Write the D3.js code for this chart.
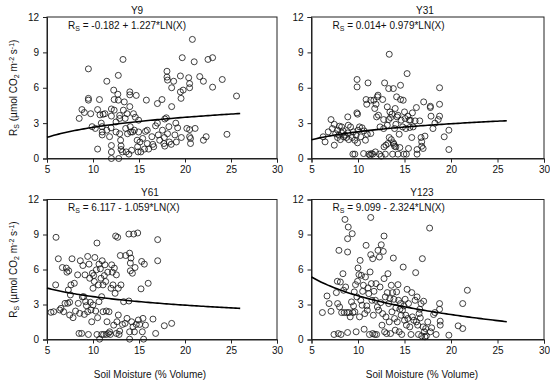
<!DOCTYPE html>
<html><head><meta charset="utf-8">
<script src="https://cdn.jsdelivr.net/npm/d3@7"></script>
<style>
body{margin:0;background:#fff;}
svg{display:block;font-family:"Liberation Sans",Arial,sans-serif;}
</style></head>
<body>
<svg id="chart" width="550" height="383"></svg>
<script>
// ---- data ----
const panelTitles = ["Y9", "Y31", "Y61", "Y123"];
const fitA = [-0.182, 0.014, 6.117, 9.099];
const fitB = [1.227, 0.979, -1.059, -2.324];
const eqTexts = ["= -0.182 + 1.227*LN(X)", "= 0.014+ 0.979*LN(X)", "= 6.117 - 1.059*LN(X)", "= 9.099 - 2.324*LN(X)"];
const xTicks = [5, 10, 15, 20, 25, 30];
const yTicks = [0, 3, 6, 9, 12];
const fitRange = [5, 26];

const y9Points = [[8.5,3.4],[8.8,4.15],[9.06,3.9],[9.5,5.1],[9.5,4.95],[9.5,7.6],[9.75,3.8],[9.9,2.7],[10.25,2.55],[10.5,0.8],[10.5,4.15],[10.7,5.0],[10.76,3.7],[10.9,3.0],[10.98,2.7],[11,2.25],[11,2.0],[11.1,3.75],[11.3,3.8],[11.5,6.55],[11.5,2.4],[11.8,1.85],[11.96,2.6],[12.0,3.6],[12.0,4.2],[12.0,1.1],[12.0,0.55],[12,0],[12.25,5.8],[12.3,5.0],[12.3,4.1],[12.5,3.1],[12.5,2.25],[12.7,5.45],[12.75,7.05],[12.75,4.95],[12.8,0],[12.9,3.65],[12.9,3.4],[12.9,2.1],[13,1.55],[13.05,1.07],[13.05,0.76],[13.2,0.56],[13.26,8.4],[13.3,4.1],[13.4,4.8],[13.5,3.4],[13.55,2.55],[13.6,0.56],[13.7,3.8],[13.75,2.1],[13.9,0.37],[14.0,5.65],[14.0,5.4],[14.0,4.4],[14.05,2.7],[14.1,2.25],[14.2,0.7],[14.3,2.25],[14.4,3.8],[14.5,2.4],[14.6,3.5],[14.7,5.35],[14.8,1.55],[14.85,1.0],[14.9,0.56],[14.96,3.25],[14.96,2.25],[15.1,1.4],[15.2,0.56],[15.4,1.7],[15.6,0.8],[15.7,2.3],[15.8,4.95],[15.9,2.4],[15.9,1.27],[16.05,0.8],[16.4,1.85],[16.5,1.2],[16.6,1.0],[16.8,2.77],[17.0,3.0],[17.0,4.66],[17.1,2.0],[17.25,1.55],[17.5,5.0],[17.55,2.4],[17.7,1.27],[17.75,1.78],[17.8,1.05],[17.8,3.35],[17.97,3.45],[18.04,7.4],[18.04,6.9],[18.1,6.65],[18.1,2.1],[18.25,2.7],[18.3,1.4],[18.5,1.2],[18.55,4.4],[18.55,6.0],[18.77,6.55],[18.9,2.0],[19.0,3.0],[19.06,1.4],[19.2,2.6],[19.5,7.0],[19.5,5.65],[19.57,5.1],[19.6,1.78],[19.7,8.55],[19.8,5.8],[20.2,2.55],[20.4,6.85],[20.5,6.35],[20.5,6.0],[20.5,1.85],[20.6,1.7],[20.6,1.27],[20.5,2.45],[20.8,10.1],[21.0,8.2],[21.1,2.55],[21.6,6.95],[22.0,6.55],[22.0,1.55],[22.3,1.85],[22.5,8.4],[23.0,8.55],[23.0,6.05],[24.05,6.7],[24.56,2.05],[25.6,5.3]];

const y31Points = [[6.25,1.84],[6.46,1.41],[6.8,2.26],[7.1,3.3],[7.24,2.54],[7.45,2.9],[7.45,1.13],[7.6,2.1],[7.8,2.4],[7.8,1.78],[7.95,1.98],[8.0,2.74],[8.1,1.6],[8.24,2.17],[8.24,2.68],[8.4,2.34],[8.45,1.84],[8.6,1.98],[8.74,1.78],[8.9,3.53],[8.9,2.17],[8.95,2.82],[9.0,1.6],[9.2,2.68],[9.38,1.78],[9.45,0.37],[9.5,2.26],[9.66,0.37],[9.66,1.55],[9.8,1.98],[9.88,3.87],[9.9,6.7],[9.9,6.07],[9.95,3.76],[9.95,1.33],[10.0,2.4],[10.16,2.68],[10.3,1.84],[10.44,2.6],[10.6,0.42],[10.66,2.34],[10.8,1.55],[10.87,5.0],[10.94,4.6],[11.0,2.06],[11.08,6.41],[11.16,0.37],[11.3,0.28],[11.37,4.94],[11.37,2.12],[11.44,0.42],[11.58,0.37],[11.7,4.94],[11.8,4.24],[11.87,0.56],[11.94,4.6],[12.08,5.23],[12.15,5.37],[12.0,3.53],[12.2,3.67],[12.3,0.37],[12.37,2.68],[12.5,0.2],[12.65,5.0],[12.76,3.3],[12.76,2.54],[12.8,0.99],[12.86,6.41],[12.94,0.37],[13.0,1.13],[13.15,4.38],[13.15,2.82],[13.22,1.27],[13.3,5.93],[13.3,3.3],[13.36,8.84],[13.36,1.78],[13.43,3.95],[13.5,3.47],[13.58,1.6],[13.65,3.76],[13.72,0.37],[13.8,5.93],[13.8,1.33],[13.86,1.21],[13.93,2.54],[13.93,1.04],[14.0,4.24],[14.07,0.99],[14.07,2.9],[14.15,5.23],[14.2,3.53],[14.3,3.67],[14.3,0.37],[14.43,2.06],[14.5,0.93],[14.57,6.21],[14.57,5.0],[14.64,3.25],[14.8,2.68],[14.86,4.94],[14.93,0.37],[15.0,3.95],[15.07,3.39],[15.14,2.54],[15.2,0.37],[15.28,7.2],[15.36,3.59],[15.43,0.85],[15.5,3.25],[15.57,2.63],[15.64,3.25],[15.78,1.78],[15.85,3.87],[15.93,2.68],[16.14,3.19],[16.28,4.32],[16.35,0.37],[16.35,0.76],[16.64,3.19],[16.78,1.78],[16.85,1.41],[16.85,1.04],[17.0,0.85],[17.06,4.8],[17.2,1.9],[17.78,4.43],[17.78,4.32],[17.85,3.59],[18.06,2.54],[18.27,3.0],[18.63,3.3],[18.77,6.0],[18.77,4.6],[18.77,3.59],[19.27,1.84],[19.77,2.4],[19.77,0.76]];

const y61Points = [[5.43,2.33],[5.72,2.38],[5.94,4.68],[5.98,8.76],[6.23,6.92],[6.38,2.53],[6.52,2.67],[6.67,6.17],[6.81,2.38],[6.96,3.1],[7.1,6.12],[7.17,5.77],[7.25,3.1],[7.32,4.25],[7.36,5.89],[7.46,2.1],[7.46,3.19],[7.54,3.82],[7.6,4.68],[7.72,6.92],[7.83,1.87],[7.97,4.82],[8.1,2.44],[8.33,5.54],[8.4,3.1],[8.48,0.52],[8.55,2.24],[8.62,6.75],[8.77,0.52],[8.84,3.65],[8.9,6.34],[8.99,3.67],[9.06,2.15],[9.13,5.54],[9.2,3.24],[9.28,2.9],[9.42,7.12],[9.42,2.38],[9.5,0.43],[9.57,6.46],[9.64,5.25],[9.71,3.19],[9.78,2.53],[9.86,1.52],[9.93,5.68],[10.0,4.39],[10.0,2.96],[10.07,5.48],[10.14,4.97],[10.2,7.03],[10.29,2.44],[10.36,5.97],[10.43,8.27],[10.43,0.43],[10.5,1.87],[10.58,4.68],[10.65,6.46],[10.65,3.24],[10.72,0.03],[10.8,6.06],[10.87,5.25],[10.94,3.67],[10.94,0.43],[11.0,6.75],[11.09,2.38],[11.09,4.68],[11.16,0.43],[11.23,5.48],[11.3,6.4],[11.38,4.97],[11.45,2.44],[11.45,0.43],[11.52,1.52],[11.6,5.77],[11.67,0.52],[11.74,2.38],[11.81,0.66],[11.88,0.43],[11.96,4.39],[12.03,6.4],[12.1,5.77],[12.17,4.68],[12.25,1.23],[12.32,6.12],[12.4,3.96],[12.46,8.87],[12.54,5.54],[12.54,0.52],[12.6,1.52],[12.68,8.76],[12.75,2.1],[12.75,4.39],[12.83,0.43],[12.9,0.72],[12.97,7.2],[13.04,4.68],[13.2,1.29],[13.33,3.24],[13.48,1.38],[13.55,7.2],[13.7,1.81],[13.9,9.04],[13.9,3.3],[13.98,7.4],[13.98,0.66],[13.98,0.03],[14.06,5.89],[14.06,6.55],[14.13,6.98],[14.2,1.52],[14.28,5.68],[14.35,1.09],[14.42,9.04],[14.5,0.66],[14.57,6.17],[14.7,1.29],[14.86,9.13],[14.93,1.67],[15.07,1.29],[15.22,4.34],[15.29,6.69],[15.36,0.66],[15.43,1.81],[15.5,0.03],[15.58,6.46],[15.7,1.23],[16.0,4.82],[16.52,1.75],[16.81,0.52],[17.03,6.75],[17.03,8.56],[17.75,1.18],[18.55,1.38]];

const y123Points = [[6.17,2.31],[6.67,3.73],[6.89,3.08],[7.1,2.42],[7.42,0.43],[7.67,4.02],[7.78,4.99],[7.81,3.08],[7.88,0.51],[7.95,7.64],[8.02,2.79],[8.1,4.93],[8.17,0.43],[8.24,2.31],[8.38,5.64],[8.45,4.22],[8.52,2.31],[8.6,10.29],[8.67,4.5],[8.81,2.31],[8.88,8.64],[8.88,7.5],[8.88,0.6],[8.95,9.64],[9.02,2.31],[9.16,1.94],[9.3,3.22],[9.38,9.07],[9.45,2.31],[9.52,2.88],[9.6,4.08],[9.66,2.37],[9.73,4.7],[9.8,0.66],[9.88,3.65],[9.95,4.99],[10.0,6.13],[10.1,5.56],[10.16,1.94],[10.23,6.78],[10.3,3.36],[10.37,5.5],[10.44,2.94],[10.5,4.13],[10.58,4.65],[10.66,0.88],[10.73,2.22],[10.8,5.36],[10.87,8.07],[10.94,2.88],[11.0,2.51],[11.08,4.42],[11.16,3.93],[11.23,0.43],[11.3,5.79],[11.37,10.46],[11.37,7.27],[11.44,4.79],[11.5,3.36],[11.58,6.93],[11.58,0.51],[11.65,2.08],[11.72,4.13],[11.8,0.43],[11.87,3.36],[11.94,4.79],[12.0,0.43],[12.08,2.79],[12.15,7.64],[12.22,2.51],[12.3,7.07],[12.37,4.5],[12.44,3.16],[12.5,8.12],[12.58,1.23],[12.65,2.22],[12.72,7.55],[12.8,8.87],[12.8,5.22],[12.86,0.66],[12.94,3.65],[13.0,1.94],[13.08,0.51],[13.15,4.02],[13.22,5.64],[13.3,3.08],[13.36,1.51],[13.43,3.51],[13.5,0.51],[13.58,4.65],[13.65,2.37],[13.72,4.02],[13.8,6.98],[13.86,3.45],[13.93,1.8],[14.0,0.8],[14.07,2.71],[14.15,4.08],[14.22,1.51],[14.3,4.7],[14.36,3.36],[14.43,0.66],[14.5,2.59],[14.57,3.08],[14.64,2.08],[14.7,0.43],[14.78,2.51],[14.86,6.21],[14.93,2.88],[15.0,1.65],[15.07,3.45],[15.14,2.08],[15.2,1.23],[15.28,4.3],[15.36,1.8],[15.43,3.08],[15.57,1.08],[15.7,0.43],[15.78,4.02],[15.85,1.94],[16.0,1.65],[16.14,3.36],[16.2,5.73],[16.28,1.51],[16.35,3.65],[16.42,1.23],[16.5,0.43],[16.57,2.22],[16.64,2.59],[16.7,1.85],[16.78,3.08],[16.85,0.31],[16.92,6.93],[17.0,1.08],[17.06,3.28],[17.13,0.66],[17.2,0.23],[17.28,0.94],[17.35,0.31],[17.5,1.51],[17.7,9.55],[17.78,0.66],[17.92,1.0],[18.13,2.14],[18.27,2.31],[18.4,0.43],[18.77,3.08],[18.77,2.59],[18.84,1.23],[18.84,1.57],[19.77,0.37],[20.77,1.17],[21.26,0.94],[21.26,3.08],[21.76,4.22]];

const allPoints = [y9Points, y31Points, y61Points, y123Points];

// ---- layout ----
const svg = d3.select("#chart");
const boxes = [
  {x0: 47, x1: 277, y0: 17, y1: 158.5, titleX: 137, left: true, bottom: false},
  {x0: 311.5, x1: 544, y0: 17, y1: 158.5, titleX: 425, left: false, bottom: false},
  {x0: 47, x1: 277, y0: 199.5, y1: 339.5, titleX: 150, left: true, bottom: true},
  {x0: 311.5, x1: 544, y0: 199.5, y1: 339.5, titleX: 422, left: false, bottom: true}
];
const axisColor = "#222";
const fontSize = 10;
const subSize = 7;

boxes.forEach((b, i) => {
  const x = d3.scaleLinear().domain([5, 30]).range([b.x0, b.x1]);
  const y = d3.scaleLinear().domain([0, 12]).range([b.y1, b.y0]);
  const g = svg.append("g");

  // frame
  g.append("rect").attr("x", b.x0).attr("y", b.y0)
    .attr("width", b.x1 - b.x0).attr("height", b.y1 - b.y0)
    .attr("fill", "none").attr("stroke", axisColor).attr("stroke-width", 1);

  const xa = g.append("g").attr("transform", `translate(0,${b.y1})`)
    .call(d3.axisBottom(x).tickValues(xTicks).tickSize(4).tickPadding(3).tickFormat(d3.format("d")));
  const ya = g.append("g").attr("transform", `translate(${b.x0},0)`)
    .call(d3.axisLeft(y).tickValues(yTicks).tickSize(4).tickPadding(4).tickFormat(d3.format("d")));
  [xa, ya].forEach(a => {
    a.select(".domain").attr("stroke", axisColor);
    a.selectAll(".tick line").attr("stroke", axisColor);
    a.selectAll(".tick text").attr("fill", "#111").style("font-size", fontSize + "px")
      .style("font-family", '"Liberation Sans", Arial, sans-serif');
  });

  // title
  g.append("text").attr("x", b.titleX).attr("y", b.y0 - 3.5)
    .attr("text-anchor", "middle").style("font-size", fontSize + "px").attr("fill", "#111")
    .text(panelTitles[i]);

  // equation
  const eq = g.append("text").attr("x", b.x0 + 21).attr("y", b.y0 + 11.5)
    .style("font-size", fontSize + "px").attr("fill", "#111");
  eq.append("tspan").text("R");
  eq.append("tspan").attr("dy", 2).style("font-size", subSize + "px").text("S");
  eq.append("tspan").attr("dy", -2).text(" " + eqTexts[i]);

  // points
  g.append("g").selectAll("circle").data(allPoints[i]).join("circle")
    .attr("cx", d => x(d[0])).attr("cy", d => y(d[1])).attr("r", 3)
    .attr("fill", "none").attr("stroke", "#111").attr("stroke-width", 0.8);

  // fit line
  const fx = d3.range(fitRange[0], fitRange[1] + 0.001, 0.25);
  const line = d3.line().x(d => x(d)).y(d => y(fitA[i] + fitB[i] * Math.log(d)));
  g.append("path").datum(fx).attr("d", line)
    .attr("fill", "none").attr("stroke", "#000").attr("stroke-width", 1.6);

  // y label
  if (b.left) {
    const cy = (b.y0 + b.y1) / 2;
    const yl = g.append("text").attr("transform", `translate(17,${cy}) rotate(-90)`)
      .attr("text-anchor", "middle").style("font-size", fontSize + "px").attr("fill", "#111");
    yl.append("tspan").text("R");
    yl.append("tspan").attr("dy", 2).style("font-size", subSize + "px").text("S");
    yl.append("tspan").attr("dy", -2).text(" (\u00b5mol CO");
    yl.append("tspan").attr("dy", 2).style("font-size", subSize + "px").text("2");
    yl.append("tspan").attr("dy", -2).text(" m");
    yl.append("tspan").attr("dy", -3.5).style("font-size", subSize + "px").text("-2");
    yl.append("tspan").attr("dy", 3.5).text(" s");
    yl.append("tspan").attr("dy", -3.5).style("font-size", subSize + "px").text("-1");
    yl.append("tspan").attr("dy", 3.5).text(")");
  }
  // x label
  if (b.bottom) {
    g.append("text").attr("x", b.titleX).attr("y", 378)
      .attr("text-anchor", "middle").style("font-size", fontSize + "px").attr("fill", "#111")
      .text("Soil Moisture (% Volume)");
  }
});
</script>
</body></html>
